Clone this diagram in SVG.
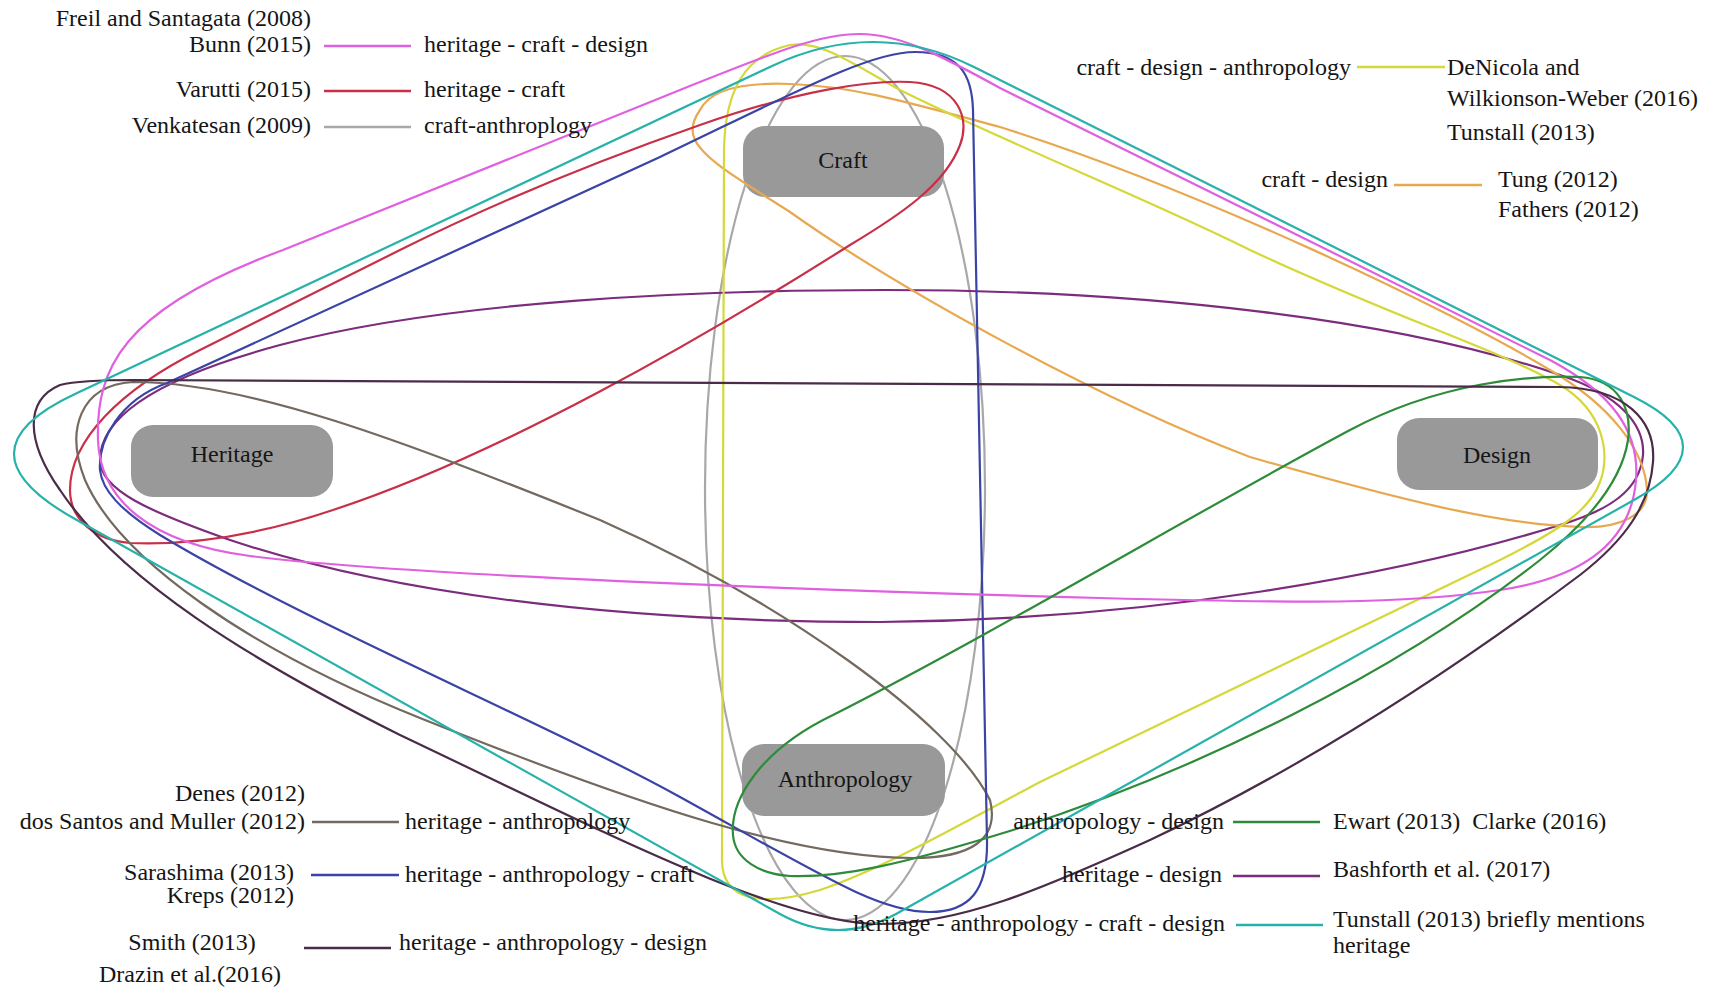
<svg xmlns="http://www.w3.org/2000/svg" width="1716" height="989" viewBox="0 0 1716 989">
<style>
.node rect{fill:#999999}
.node text{font-family:"Liberation Serif","Times New Roman",serif;font-size:24px;fill:#151515;text-anchor:middle}
.lbl{font-family:"Liberation Serif","Times New Roman",serif;font-size:24px;fill:#151515}
.e{text-anchor:end}
.m{text-anchor:middle}
.c{fill:none;stroke-width:2.2;stroke-linejoin:round;stroke-linecap:round}
.sw{fill:none;stroke-width:2.5}
.pink{stroke:#e060e0}
.red{stroke:#c83048}
.gray{stroke:#a8a8a8}
.yel{stroke:#d4d838}
.ora{stroke:#e8a850}
.brn{stroke:#73695f}
.blu{stroke:#3a44a6}
.drk{stroke:#4a2c48}
.grn{stroke:#2e8b3a}
.pur{stroke:#7c2c7c}
.teal{stroke:#26b2aa}
</style>
<defs>
<mask id="cut" maskUnits="userSpaceOnUse" x="0" y="0" width="1716" height="989">
<rect width="1716" height="989" fill="#fff"/>
<rect x="743" y="126" width="201" height="71" rx="22" fill="#000"/>
<rect x="742" y="744" width="203" height="72" rx="22" fill="#000"/>
</mask>
</defs>
<rect width="1716" height="989" fill="#ffffff"/>

<g id="node-craft" class="node"><rect x="743" y="126" width="201" height="71" rx="22"/><text x="843" y="168">Craft</text></g>
<g id="node-heritage" class="node"><rect x="131" y="425" width="202" height="72" rx="22"/><text x="232" y="462">Heritage</text></g>
<g id="node-design" class="node"><rect x="1397" y="418" width="201" height="72" rx="22"/><text x="1497" y="463">Design</text></g>
<g id="node-anthropology" class="node"><rect x="742" y="744" width="203" height="72" rx="22"/><text x="845" y="787">Anthropology</text></g>

<g id="connectors">
<ellipse id="craft-anthropology" class="c gray" cx="845" cy="488" rx="140" ry="432" mask="url(#cut)"/>
<path id="heritage-design" class="c pur" d="M100,460 C100,420 150,380 280,345 C450,300 700,290 886,290 C1150,290 1400,320 1560,375 C1620,395 1645,425 1643,455 C1640,490 1610,510 1560,525 C1400,575 1150,620 880,622 C600,622 380,590 230,540 C150,512 100,490 100,460 Z"/>
<path id="craft-design" class="c ora" d="M700,110 C710,90 740,82 790,84 C850,86 900,100 1000,127 C1200,190 1450,310 1550,370 C1610,405 1645,450 1647,490 C1648,515 1620,528 1583,527 C1500,525 1400,500 1250,457 C1100,400 900,290 790,212 C740,180 705,160 695,140 C690,130 693,120 700,110 Z"/>
<path id="craft-design-anthropology" class="c yel" d="M722,860 L724,150 C725,90 745,55 790,45 C820,40 850,62 900,90 C1000,140 1150,200 1250,250 C1400,320 1500,350 1560,385 C1605,412 1610,455 1600,482 C1590,510 1560,530 1500,560 L1040,782 C950,830 880,870 820,890 C760,908 722,900 722,860 Z"/>
<path id="heritage-craft" class="c red" d="M70,490 C70,440 120,390 200,350 L400,250 C500,200 600,160 700,125 C800,90 870,80 910,82 C960,85 970,120 960,145 C945,185 900,215 850,245 C700,340 500,455 333,510 C250,538 180,545 130,543 C95,540 70,520 70,490 Z"/>
<path id="heritage-anthropology" class="c brn" d="M133,382 C250,382 400,440 600,520 C780,600 950,720 990,800 C1000,840 970,858 913,858 C800,858 650,810 420,718 C250,650 120,560 85,480 C65,430 80,385 133,382 Z"/>
<path id="heritage-anthropology-craft" class="c blu" d="M100,470 C98,440 120,400 167,383 L660,157 C800,90 870,52 915,52 C960,52 972,75 973,110 L987,840 C988,890 970,912 930,912 C880,912 830,880 680,797 C550,725 300,620 160,535 C120,510 102,490 100,470 Z"/>
<path id="heritage-craft-design" class="c pink" d="M98,440 C96,370 120,310 283,250 L680,90 C780,50 820,34 860,34 C900,34 940,55 1000,88 L1550,360 C1610,392 1640,430 1636,480 C1632,530 1600,575 1500,590 C1400,605 1300,603 1100,598 C800,590 400,575 250,556 C150,543 100,500 98,440 Z"/>
<path id="anthropology-design" class="c grn" d="M733,835 C730,800 760,750 833,715 C1000,630 1200,510 1350,430 C1440,382 1530,375 1580,377 C1620,380 1632,410 1628,440 C1622,480 1590,520 1540,560 C1400,670 1200,770 1013,830 C900,865 840,878 790,876 C760,874 735,860 733,835 Z"/>
<path id="heritage-anthropology-design" class="c drk" d="M133,380 L1560,387 C1625,388 1656,420 1653,462 C1650,505 1625,540 1580,575 C1480,650 1330,755 1150,840 C1040,890 960,924 880,924 C780,924 600,830 400,735 C250,660 120,580 60,490 C25,440 25,400 60,385 C80,380 110,380 133,380 Z"/>
<path id="heritage-anthropology-craft-design" class="c teal" d="M75,519 Q-47,451 75,394 L772,66 Q875,17.5 974,67 L1634,397 Q1732,446 1634,500 L896,914 Q838,946 780,914 Z"/>
</g>

<g id="legend">
<line class="sw pink" x1="324" y1="46" x2="411" y2="46"/>
<line class="sw red" x1="324" y1="91" x2="411" y2="91"/>
<line class="sw gray" x1="324" y1="127" x2="411" y2="127"/>
<line class="sw yel" x1="1357" y1="67" x2="1445" y2="67"/>
<line class="sw ora" x1="1394" y1="185" x2="1482" y2="185"/>
<line class="sw brn" x1="312" y1="822" x2="399" y2="822"/>
<line class="sw blu" x1="311" y1="875" x2="399" y2="875"/>
<line class="sw drk" x1="304" y1="948" x2="391" y2="948"/>
<line class="sw grn" x1="1233" y1="822" x2="1320" y2="822"/>
<line class="sw pur" x1="1233" y1="876" x2="1320" y2="876"/>
<line class="sw teal" x1="1236" y1="925" x2="1323" y2="925"/>

<text class="lbl e" x="311" y="26">Freil and Santagata (2008)</text>
<text class="lbl e" x="311" y="52">Bunn (2015)</text>
<text class="lbl" x="424" y="52">heritage - craft - design</text>
<text class="lbl e" x="311" y="97">Varutti (2015)</text>
<text class="lbl" x="424" y="97">heritage - craft</text>
<text class="lbl e" x="311" y="133">Venkatesan (2009)</text>
<text class="lbl" x="424" y="133">craft-anthroplogy</text>

<text class="lbl e" x="1351" y="75">craft - design - anthropology</text>
<text class="lbl" x="1447" y="75">DeNicola and</text>
<text class="lbl" x="1447" y="106">Wilkionson-Weber (2016)</text>
<text class="lbl" x="1447" y="140">Tunstall (2013)</text>
<text class="lbl e" x="1388" y="187">craft - design</text>
<text class="lbl" x="1498" y="187">Tung (2012)</text>
<text class="lbl" x="1498" y="217">Fathers (2012)</text>

<text class="lbl e" x="305" y="801">Denes (2012)</text>
<text class="lbl e" x="305" y="829">dos Santos and Muller (2012)</text>
<text class="lbl" x="405" y="829">heritage - anthropology</text>
<text class="lbl e" x="294" y="880">Sarashima (2013)</text>
<text class="lbl" x="405" y="882">heritage - anthropology - craft</text>
<text class="lbl e" x="294" y="903">Kreps (2012)</text>
<text class="lbl m" x="192" y="950">Smith (2013)</text>
<text class="lbl" x="399" y="950">heritage - anthropology - design</text>
<text class="lbl m" x="190" y="982">Drazin et al.(2016)</text>

<text class="lbl e" x="1224" y="829">anthropology - design</text>
<text class="lbl" x="1333" y="829" xml:space="preserve" style="white-space:pre">Ewart (2013)  Clarke (2016)</text>
<text class="lbl e" x="1222" y="882">heritage - design</text>
<text class="lbl" x="1333" y="877">Bashforth et al. (2017)</text>
<text class="lbl e" x="1225" y="931">heritage - anthropology - craft - design</text>
<text class="lbl" x="1333" y="927">Tunstall (2013) briefly mentions</text>
<text class="lbl" x="1333" y="953">heritage</text>
</g>
</svg>
